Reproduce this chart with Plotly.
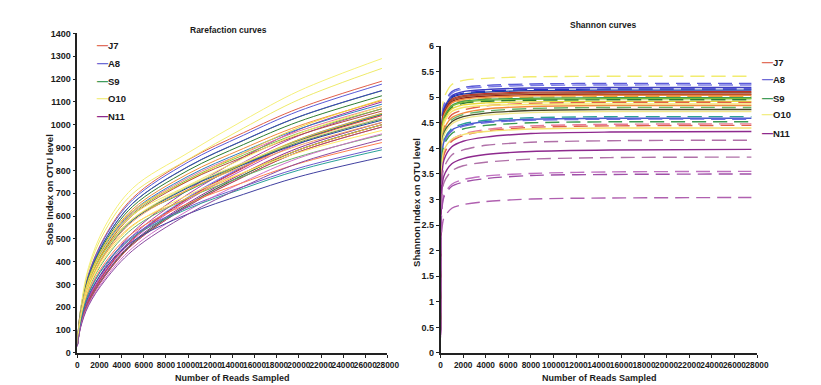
import plotly.graph_objects as go

W, H = 821, 385

GROUPS = ["J7", "A8", "S9", "O10", "N11"]
LEGEND_COLORS = ["#e2705c", "#6c6cd6", "#3f9d5c", "#f2ee86", "#8e2a8e"]

# ---------------- Rarefaction (Sobs) curves ----------------
RARE_X = [0, 300, 1000, 2500, 5000, 10000, 15000, 20000, 27500]

RARE_J7 = [
    [48, 191, 345, 512, 679, 846, 965, 1072, 1191],
    [44, 177, 321, 476, 630, 785, 896, 995, 1106],
    [43, 173, 313, 464, 616, 767, 875, 972, 1080],
    [42, 170, 307, 456, 604, 753, 859, 954, 1060],
    [31, 125, 229, 354, 499, 676, 811, 926, 1040],
    [40, 162, 293, 434, 576, 717, 818, 909, 1010],
    [30, 119, 218, 337, 475, 644, 772, 881, 990],
    [37, 148, 267, 396, 526, 655, 747, 830, 922],
]
RARE_A8 = [
    [47, 188, 342, 507, 671, 836, 954, 1060, 1178],
    [46, 184, 334, 495, 656, 817, 932, 1035, 1150],
    [44, 174, 316, 469, 621, 774, 883, 981, 1090],
    [32, 126, 231, 357, 504, 683, 819, 935, 1050],
    [41, 163, 296, 439, 581, 724, 826, 918, 1020],
    [30, 120, 220, 340, 480, 650, 780, 890, 1000],
    [36, 144, 261, 387, 513, 639, 729, 810, 900],
    [34, 137, 249, 369, 489, 609, 695, 772, 858],
]
RARE_S9 = [
    [46, 184, 333, 494, 655, 816, 931, 1034, 1149],
    [45, 180, 327, 485, 642, 800, 913, 1014, 1127],
    [43, 171, 310, 460, 610, 760, 867, 963, 1070],
    [42, 157, 303, 449, 585, 711, 826, 930, 1045],
    [41, 164, 297, 441, 584, 728, 830, 923, 1025],
    [30, 120, 220, 340, 480, 650, 780, 890, 1000],
    [38, 153, 277, 411, 545, 679, 774, 860, 956],
    [36, 142, 258, 383, 507, 632, 721, 801, 890],
]
RARE_O10 = [
    [52, 194, 374, 555, 722, 877, 1019, 1148, 1290],
    [50, 187, 362, 536, 698, 848, 985, 1110, 1247],
    [44, 167, 322, 477, 622, 755, 877, 988, 1110],
    [43, 162, 313, 464, 605, 734, 853, 961, 1080],
    [42, 158, 305, 452, 588, 714, 830, 935, 1050],
    [41, 165, 299, 443, 587, 731, 834, 927, 1030],
    [40, 150, 290, 430, 560, 680, 790, 890, 1000],
    [39, 156, 283, 419, 556, 692, 790, 878, 975],
]
RARE_N11 = [
    [33, 132, 242, 374, 528, 715, 858, 979, 1100],
    [32, 128, 235, 364, 514, 696, 835, 952, 1070],
    [31, 125, 230, 355, 502, 679, 815, 930, 1045],
    [31, 124, 227, 350, 494, 670, 803, 917, 1030],
    [30, 121, 222, 343, 485, 657, 788, 899, 1010],
    [30, 119, 218, 337, 475, 644, 772, 881, 990],
    [29, 115, 211, 326, 461, 624, 749, 854, 960],
    [28, 112, 206, 318, 449, 608, 729, 832, 935],
]
RARE_COLORS = {
    "J7": ["#e0604a", "#f08a3c", "#e87a9a", "#b5523b", "#d93a3a", "#f4a460", "#c0504d", "#ff7f50"],
    "A8": ["#5a5ad8", "#3f3fbf", "#2f7fc0", "#7b7be6", "#1e3f9f", "#4aa0d8", "#6a5acd", "#4040a0"],
    "S9": ["#3a9a50", "#2e7d32", "#7cbf3a", "#1f8f6f", "#5aa05a", "#556b2f", "#66b266", "#2aa198"],
    "O10": ["#f5f07a", "#eeea6a", "#f2d23c", "#f7e56a", "#e6c229", "#f0e68c", "#f5b640", "#ffe866"],
    "N11": ["#9a2fa0", "#b03fa8", "#7e3a9e", "#c050b8", "#8e2a8e", "#a65fc2", "#d070c8", "#8a4aa0"],
}
RARE = {"J7": RARE_J7, "A8": RARE_A8, "S9": RARE_S9, "O10": RARE_O10, "N11": RARE_N11}

# ---------------- Shannon curves ----------------
SH_X = [0, 30, 100, 300, 1000, 2000, 4000, 8000, 15000, 27500]
SH_Y = [
    [0.54, 3.79, 4.60, 4.98, 5.25, 5.33, 5.37, 5.40, 5.41, 5.41],
    [0.53, 3.69, 4.48, 4.85, 5.11, 5.19, 5.23, 5.26, 5.27, 5.27],
    [0.52, 3.67, 4.45, 4.82, 5.08, 5.16, 5.20, 5.23, 5.24, 5.24],
    [0.52, 3.63, 4.41, 4.77, 5.03, 5.11, 5.15, 5.18, 5.19, 5.19],
    [0.52, 3.61, 4.39, 4.75, 5.01, 5.08, 5.12, 5.15, 5.16, 5.16],
    [0.51, 3.60, 4.37, 4.73, 4.99, 5.06, 5.10, 5.13, 5.14, 5.14],
    [0.51, 3.58, 4.34, 4.70, 4.96, 5.03, 5.07, 5.10, 5.11, 5.11],
    [0.51, 3.56, 4.33, 4.68, 4.94, 5.01, 5.05, 5.08, 5.09, 5.09],
    [0.51, 3.54, 4.30, 4.66, 4.91, 4.98, 5.02, 5.05, 5.06, 5.06],
    [0.50, 3.53, 4.28, 4.64, 4.89, 4.96, 5.00, 5.03, 5.04, 5.04],
    [0.50, 3.51, 4.26, 4.61, 4.86, 4.93, 4.97, 5.00, 5.01, 5.01],
    [0.50, 3.49, 4.24, 4.59, 4.84, 4.92, 4.96, 4.98, 4.99, 4.99],
    [0.50, 3.48, 4.22, 4.57, 4.82, 4.90, 4.94, 4.96, 4.97, 4.97],
    [0.50, 3.47, 4.21, 4.55, 4.80, 4.88, 4.92, 4.94, 4.95, 4.95],
    [0.49, 3.44, 4.18, 4.53, 4.77, 4.85, 4.89, 4.91, 4.92, 4.92],
    [0.49, 3.19, 4.02, 4.41, 4.66, 4.75, 4.83, 4.88, 4.90, 4.90],
    [0.49, 3.41, 4.14, 4.48, 4.72, 4.80, 4.84, 4.86, 4.87, 4.87],
    [0.48, 3.15, 3.97, 4.36, 4.60, 4.69, 4.77, 4.82, 4.84, 4.84],
    [0.48, 3.12, 3.94, 4.32, 4.56, 4.66, 4.73, 4.78, 4.80, 4.80],
    [0.48, 3.09, 3.90, 4.28, 4.52, 4.62, 4.69, 4.74, 4.76, 4.76],
    [0.47, 3.07, 3.87, 4.25, 4.48, 4.58, 4.65, 4.70, 4.72, 4.72],
    [0.46, 3.00, 3.79, 4.16, 4.39, 4.48, 4.55, 4.60, 4.62, 4.62],
    [0.46, 2.98, 3.76, 4.13, 4.36, 4.45, 4.52, 4.57, 4.59, 4.59],
    [0.46, 2.97, 3.75, 4.11, 4.34, 4.43, 4.50, 4.55, 4.57, 4.57],
    [0.45, 2.94, 3.71, 4.07, 4.29, 4.38, 4.45, 4.50, 4.52, 4.52],
    [0.45, 2.69, 3.49, 3.90, 4.17, 4.28, 4.37, 4.44, 4.47, 4.48],
    [0.45, 2.67, 3.47, 3.87, 4.14, 4.25, 4.34, 4.41, 4.44, 4.45],
    [0.44, 2.86, 3.61, 3.96, 4.18, 4.27, 4.33, 4.38, 4.40, 4.40],
    [0.43, 2.60, 3.38, 3.77, 4.03, 4.14, 4.22, 4.29, 4.32, 4.33],
    [0.42, 2.50, 3.24, 3.62, 3.87, 3.97, 4.06, 4.12, 4.15, 4.16],
    [0.40, 2.39, 3.10, 3.46, 3.70, 3.80, 3.88, 3.94, 3.97, 3.98],
    [0.38, 2.30, 2.99, 3.33, 3.56, 3.66, 3.73, 3.79, 3.82, 3.83],
    [0.36, 2.13, 2.77, 3.09, 3.30, 3.39, 3.46, 3.51, 3.54, 3.55],
    [0.35, 2.10, 2.73, 3.05, 3.26, 3.34, 3.41, 3.47, 3.49, 3.50],
    [0.30, 1.82, 2.37, 2.64, 2.83, 2.90, 2.96, 3.01, 3.03, 3.04],
]
SH_COLORS = [
    "#f2ec70", "#5a5ad8", "#7b7be6", "#3f3fbf", "#2f2fcf", "#1e3f9f", "#c0302a",
    "#a0522d", "#8b1a1a", "#f08a3c", "#e6a23c", "#3a9a50", "#7cbf3a", "#2e7d32",
    "#e6d83a", "#e0604a", "#f7e56a", "#f08a3c", "#66b266", "#4a4a2a", "#f0e68c",
    "#2aa198", "#4a5ad0", "#6a6ae0", "#3a9a50", "#e87a9a", "#e0604a", "#f5e070",
    "#8e2a8e", "#b070a8", "#8e2a8e", "#b070a8", "#c070c0", "#a050a8", "#b060b0",
]
SH_DASHED = [
    True, True, True, False, True, False, False, False, False, False, True, False,
    False, True, False, True, False, False, True, False, False, True, False, True,
    True, True, True, False, False, True, False, True, True, True, True,
]

FAM = "Liberation Sans, Arial, Helvetica, sans-serif"
Y_TICK_FONT = dict(family=FAM, size=9, color="#1a1a1a", weight="bold")
X_TICK_FONT = dict(family=FAM, size=8.3, color="#1a1a1a", weight="bold")
TITLE_FONT = dict(family=FAM, size=8.5, color="#1a1a1a", weight="bold")
XT_FONT = dict(family=FAM, size=9, color="#1a1a1a", weight="bold")
YT_FONT = dict(family=FAM, size=9.5, color="#1a1a1a", weight="bold")
LEG_FONT = dict(family=FAM, size=9.5, color="#1a1a1a", weight="bold")

fig = go.Figure()

# left: interleave samples of the groups
for i in range(8):
    for g in GROUPS:
        fig.add_trace(go.Scatter(
            x=RARE_X, y=RARE[g][i], mode="lines", xaxis="x", yaxis="y",
            line=dict(color=RARE_COLORS[g][i], width=1, shape="spline", smoothing=1.0),
            showlegend=False, hoverinfo="skip"))

# right
for y, c, d in zip(SH_Y, SH_COLORS, SH_DASHED):
    fig.add_trace(go.Scatter(
        x=SH_X, y=y, mode="lines", xaxis="x2", yaxis="y2",
        line=dict(color=c, width=1.4, shape="spline", smoothing=0.8,
                  dash="14px,7px" if d else "solid"),
        showlegend=False, hoverinfo="skip"))

def px_x(p):
    return p / W

def px_y(p):
    return (H - p) / H

axis_common = dict(showline=True, linecolor="#222222", linewidth=1.5, ticks="outside",
                   ticklen=3, tickwidth=1, tickcolor="#222222", showgrid=False,
                   zeroline=False, tickangle=0)

fig.update_layout(
    width=W, height=H, margin=dict(l=0, r=0, t=0, b=0),
    paper_bgcolor="white", plot_bgcolor="white", showlegend=False,
    xaxis=dict(domain=[px_x(68.5), px_x(384)], range=[0, 28000], tick0=0, dtick=2000,
               tickformat="d", tickfont=X_TICK_FONT, anchor="y", **axis_common),
    yaxis=dict(domain=[px_y(349), px_y(21)], range=[0, 1400], tick0=0, dtick=100,
               tickformat="d", tickfont=Y_TICK_FONT, anchor="x", **axis_common),
    xaxis2=dict(domain=[px_x(438), px_x(760)], range=[0, 28000], tick0=0, dtick=2000,
                tickformat="d", tickfont=X_TICK_FONT, anchor="y2", **axis_common),
    yaxis2=dict(domain=[px_y(349), px_y(34)], range=[0, 6], tick0=0, dtick=0.5,
                tickfont=Y_TICK_FONT, anchor="x2", **axis_common),
)

ann = []
ann.append(dict(text="Rarefaction curves", x=px_x(222), y=px_y(17), font=TITLE_FONT))
ann.append(dict(text="Shannon curves", x=px_x(603), y=px_y(12), font=TITLE_FONT))
ann.append(dict(text="Number of Reads Sampled", x=px_x(226), y=px_y(375), font=XT_FONT))
ann.append(dict(text="Number of Reads Sampled", x=px_x(600), y=px_y(375), font=XT_FONT))
ann.append(dict(text="Sobs Index on OTU level", x=px_x(40), y=px_y(182), font=YT_FONT, textangle=-90))
ann.append(dict(text="Shannon Index on OTU level", x=px_x(414), y=px_y(194), font=YT_FONT, textangle=-90))
for a in ann:
    a.update(xref="paper", yref="paper", showarrow=False, xanchor="center", yanchor="middle")

LEG_LEFT_Y = [33, 51.5, 69.5, 87.5, 106]
LEG_RIGHT_Y = [50, 68, 87, 104, 123]
for g, c, yl, yr in zip(GROUPS, LEGEND_COLORS, LEG_LEFT_Y, LEG_RIGHT_Y):
    txt = f'<span style="color:{c};font-size:11px">\u2014</span>{g}'
    for xx, yy in ((86, yl), (763, yr)):
        ann.append(dict(text=txt, x=px_x(xx), y=px_y(yy), xref="paper", yref="paper",
                        showarrow=False, xanchor="left", yanchor="middle", font=LEG_FONT))

fig.update_layout(annotations=ann)
fig.write_html("out.html")
